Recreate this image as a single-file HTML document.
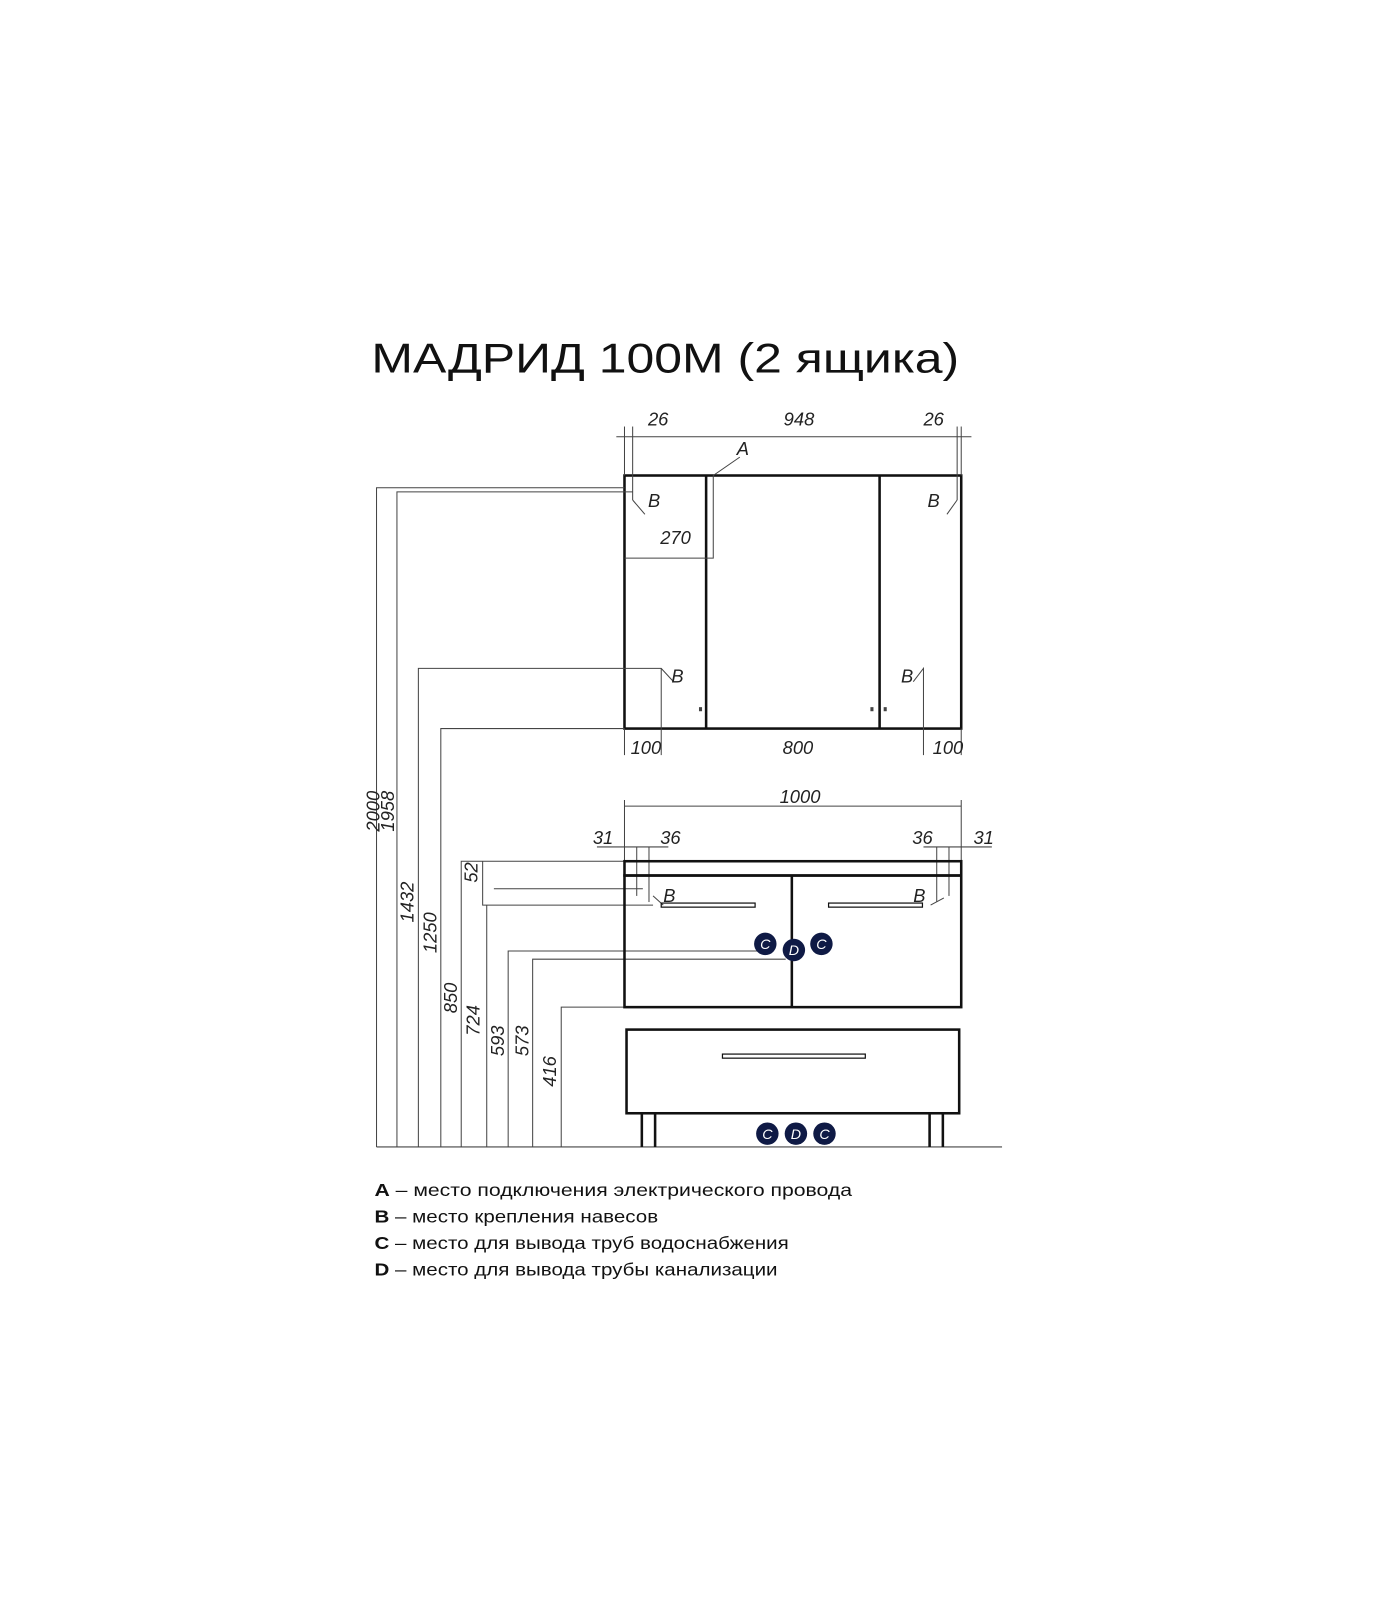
<!DOCTYPE html>
<html><head><meta charset="utf-8"><style>
html,body{margin:0;padding:0;background:#fff;}
svg{display:block}
.t{font-family:"Liberation Sans",sans-serif;font-style:italic;font-size:18px;fill:#222}
.l{font-family:"Liberation Sans","Noto Sans CJK SC",sans-serif;font-size:17px;fill:#111}
</style></head><body>
<svg width="1400" height="1600" viewBox="0 0 1372 1568" xmlns="http://www.w3.org/2000/svg">
<rect width="1372" height="1568" fill="#fff"/>
<text x="364" y="365" font-family="Liberation Sans,sans-serif" font-size="41" fill="#111" textLength="576" lengthAdjust="spacingAndGlyphs">МАДРИД 100М (2 ящика)</text>

<g stroke="#111" fill="none">
<!-- upper cabinet -->
<rect x="612" y="466" width="330" height="248" stroke-width="2.5"/>
<line x1="692" y1="466" x2="692" y2="714" stroke-width="2.5"/>
<line x1="862" y1="466" x2="862" y2="714" stroke-width="2.5"/>
<g stroke-width="1" stroke="#444">
<line x1="604" y1="428" x2="952" y2="428"/>
<line x1="620" y1="418" x2="620" y2="490"/>
<line x1="938" y1="418" x2="938" y2="490"/>
<line x1="612" y1="418" x2="612" y2="466"/>
<line x1="942" y1="418" x2="942" y2="466"/>
<polyline points="620,490 632,504"/>
<polyline points="938,490 928,504"/>
<polyline points="612,547 699,547 699,466 725,448"/>
<!-- hinge leaders -->
<polyline points="369,1124 369,478 612,478"/>
<polyline points="389,1124 389,482 620,482"/>
<polyline points="410,1124 410,655 648,655 660,668"/>
<polyline points="648,655 648,714"/>
<polyline points="905,714 905,655 895,668"/>
<polyline points="432,1124 432,714 612,714"/>
<line x1="612" y1="714" x2="612" y2="740"/>
<line x1="942" y1="714" x2="942" y2="740"/>
<line x1="648" y1="714" x2="648" y2="740"/>
<line x1="905" y1="714" x2="905" y2="740"/>
<!-- lower dims -->
<line x1="612" y1="790" x2="942" y2="790"/>
<line x1="612" y1="784" x2="612" y2="843"/>
<line x1="942" y1="784" x2="942" y2="843"/>
<line x1="585" y1="830" x2="655" y2="830"/>
<line x1="905" y1="830" x2="972" y2="830"/>
<line x1="624" y1="830" x2="624" y2="878"/>
<line x1="636" y1="830" x2="636" y2="884"/>
<line x1="918" y1="830" x2="918" y2="884"/>
<line x1="930" y1="830" x2="930" y2="878"/>
<polyline points="452,1124 452,844 612,844"/>
<polyline points="473,844 473,887 640,887"/>
<line x1="484" y1="871" x2="630" y2="871"/>
<line x1="477" y1="887" x2="477" y2="1124"/>
<polyline points="498,1124 498,932 742,932"/>
<polyline points="522,1124 522,940 770,940"/>
<polyline points="550,1124 550,987 612,987"/>
<line x1="640" y1="878" x2="650" y2="887"/>
<line x1="912" y1="887" x2="925" y2="880"/>
<line x1="369" y1="1124" x2="982" y2="1124"/>
</g>
<!-- lower cabinet -->
<rect x="612" y="844" width="330" height="14" stroke-width="2.5"/>
<rect x="612" y="858" width="330" height="129" stroke-width="2.5"/>
<line x1="776" y1="858" x2="776" y2="987" stroke-width="2.5"/>
<rect x="648" y="885" width="92" height="4" stroke-width="1.2"/>
<rect x="812" y="885" width="92" height="4" stroke-width="1.2"/>
<rect x="614" y="1009" width="326" height="82" stroke-width="2.5"/>
<rect x="708" y="1033" width="140" height="4" stroke-width="1.2"/>
<line x1="629" y1="1091" x2="629" y2="1124" stroke-width="2.5"/>
<line x1="642" y1="1091" x2="642" y2="1124" stroke-width="2.5"/>
<line x1="911" y1="1091" x2="911" y2="1124" stroke-width="2.5"/>
<line x1="924" y1="1091" x2="924" y2="1124" stroke-width="2.5"/>
<rect x="685" y="693" width="3" height="4" fill="#444" stroke="none"/>
<rect x="853" y="693" width="3" height="4" fill="#444" stroke="none"/>
<rect x="866" y="693" width="3" height="4" fill="#444" stroke="none"/>
</g>

<g fill="#0f1a45">
<circle cx="750" cy="925" r="11"/><circle cx="778" cy="931" r="11"/><circle cx="805" cy="925" r="11"/>
<circle cx="752" cy="1111" r="11"/><circle cx="780" cy="1111" r="11"/><circle cx="808" cy="1111" r="11"/>
</g>
<g font-family="Liberation Sans,sans-serif" font-style="italic" font-size="14" fill="#fff" text-anchor="middle">
<text x="750" y="930">C</text><text x="778" y="936">D</text><text x="805" y="930">C</text>
<text x="752" y="1116">C</text><text x="780" y="1116">D</text><text x="808" y="1116">C</text>
</g>

<g class="t" text-anchor="middle">
<text x="645" y="417">26</text><text x="783" y="417">948</text><text x="915" y="417">26</text>
<text x="728" y="446">A</text>
<text x="641" y="497">B</text><text x="915" y="497">B</text>
<text x="662" y="533">270</text>
<text x="664" y="669">B</text><text x="889" y="669">B</text>
<text x="633" y="739">100</text><text x="782" y="739">800</text><text x="929" y="739">100</text>
<text x="784" y="787">1000</text>
<text x="591" y="827">31</text><text x="657" y="827">36</text><text x="904" y="827">36</text><text x="964" y="827">31</text>
<text x="656" y="884">B</text><text x="901" y="884">B</text>
</g>
<g class="t" text-anchor="middle">
<text transform="translate(372,795) rotate(-90)">2000</text>
<text transform="translate(386,795) rotate(-90)">1958</text>
<text transform="translate(405,884) rotate(-90)">1432</text>
<text transform="translate(428,914) rotate(-90)">1250</text>
<text transform="translate(448,978) rotate(-90)">850</text>
<text transform="translate(468,855) rotate(-90)">52</text>
<text transform="translate(470,1000) rotate(-90)">724</text>
<text transform="translate(494,1020) rotate(-90)">593</text>
<text transform="translate(518,1020) rotate(-90)">573</text>
<text transform="translate(545,1050) rotate(-90)">416</text>
</g>

<g class="l">
<text x="367" y="1172" textLength="468" lengthAdjust="spacingAndGlyphs"><tspan font-weight="bold">A</tspan> – место подключения электрического провода</text>
<text x="367" y="1198" textLength="278" lengthAdjust="spacingAndGlyphs"><tspan font-weight="bold">B</tspan> – место крепления навесов</text>
<text x="367" y="1224" textLength="406" lengthAdjust="spacingAndGlyphs"><tspan font-weight="bold">C</tspan> – место для вывода труб водоснабжения</text>
<text x="367" y="1250" textLength="395" lengthAdjust="spacingAndGlyphs"><tspan font-weight="bold">D</tspan> – место для вывода трубы канализации</text>
</g>
</svg>
</body></html>
